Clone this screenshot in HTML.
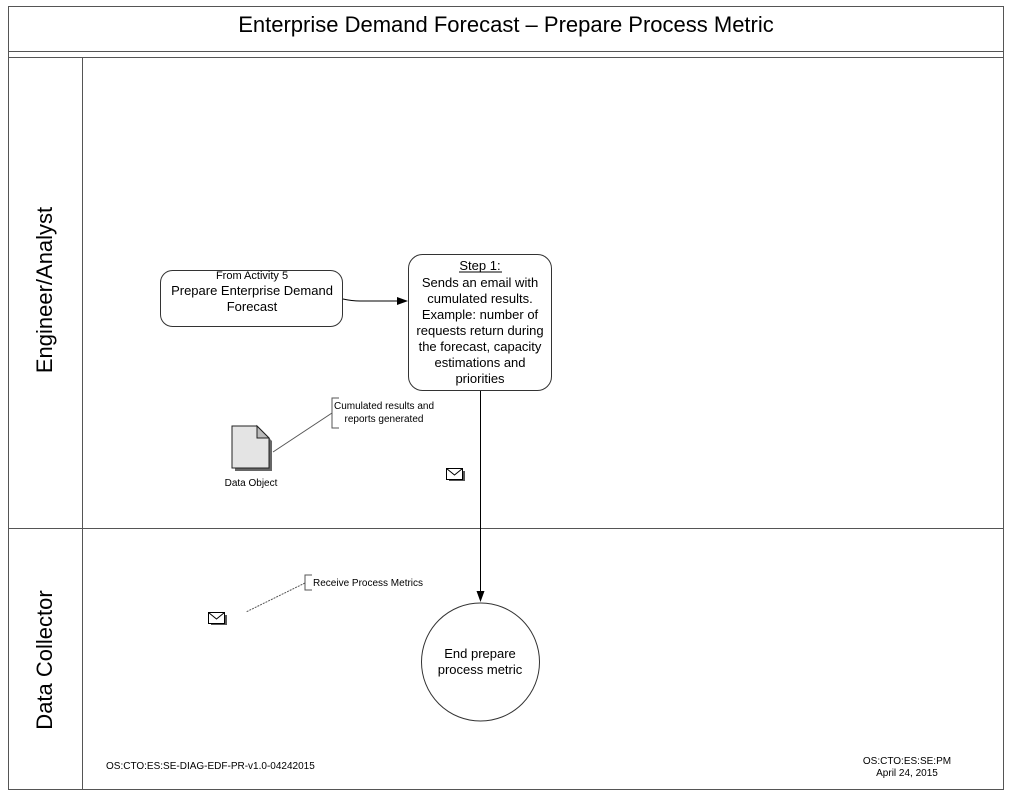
<!DOCTYPE html>
<html><head><style>body{margin:0;background:#fff}svg{display:block}text{font-family:"Liberation Sans",sans-serif;fill:#000}</style></head>
<body>
<svg width="1012" height="792" xmlns="http://www.w3.org/2000/svg">
<rect x="0" y="0" width="1012" height="792" fill="#fff"/>
<g stroke="#555" fill="none" stroke-width="1">
<rect x="8.5" y="6.5" width="995" height="783"/>
<line x1="8" y1="51.5" x2="1004" y2="51.5"/>
<line x1="8" y1="57.5" x2="1004" y2="57.5"/>
<line x1="82.5" y1="57" x2="82.5" y2="790"/>
<line x1="8" y1="528.5" x2="1004" y2="528.5"/>
</g>
<text x="506" y="32" font-size="22" text-anchor="middle">Enterprise Demand Forecast – Prepare Process Metric</text>
<text transform="translate(52,290) rotate(-90)" font-size="22" text-anchor="middle">Engineer/Analyst</text>
<text transform="translate(52,660) rotate(-90)" font-size="22" text-anchor="middle">Data Collector</text>
<rect x="160.5" y="270.5" width="182" height="56" rx="12" fill="#fff" stroke="#333"/>
<text x="252" y="279" font-size="11" text-anchor="middle">From Activity 5</text>
<text x="252" y="295" font-size="13" text-anchor="middle">Prepare Enterprise Demand</text>
<text x="252" y="311" font-size="13" text-anchor="middle">Forecast</text>
<path d="M343,299 Q352,301 360,301 L398,301" stroke="#000" fill="none"/>
<polygon points="408,301 397,297 397,305" fill="#000"/>
<rect x="408.5" y="254.5" width="143" height="136" rx="14" fill="#fff" stroke="#333"/>
<g font-size="13" text-anchor="middle">
<text x="480" y="270">Step 1:</text>
<line x1="459" y1="272" x2="502" y2="272" stroke="#000"/>
<text x="480" y="287">Sends an email with</text>
<text x="480" y="303">cumulated results.</text>
<text x="480" y="319">Example: number of</text>
<text x="480" y="335">requests return during</text>
<text x="480" y="351">the forecast, capacity</text>
<text x="480" y="367">estimations and</text>
<text x="480" y="383">priorities</text>
</g>
<line x1="480.5" y1="391" x2="480.5" y2="592" stroke="#000"/>
<polygon points="480.5,602 476.5,591 484.5,591" fill="#000"/>
<circle cx="480.5" cy="662" r="59" fill="#fff" stroke="#333"/>
<text x="480" y="658" font-size="13" text-anchor="middle">End prepare</text>
<text x="480" y="674" font-size="13" text-anchor="middle">process metric</text>
<path d="M339,398 L332,398 L332,428 L339,428" stroke="#555" fill="none"/>
<line x1="332" y1="413" x2="273" y2="452" stroke="#555"/>
<text x="384" y="409" font-size="10" text-anchor="middle">Cumulated results and</text>
<text x="384" y="422" font-size="10" text-anchor="middle">reports generated</text>
<polygon points="235,429 260,429 272,441 272,471 235,471" fill="#666"/>
<polygon points="232,426 257,426 269,438 269,468 232,468" fill="#e4e4e4" stroke="#222"/>
<polygon points="257,426 257,438 269,438" fill="#bbb" stroke="#222"/>
<text x="251" y="486" font-size="10" text-anchor="middle">Data Object</text>
<rect x="449" y="471" width="16" height="10" fill="#555"/>
<rect x="446.5" y="468.5" width="16" height="11" fill="#fff" stroke="#000"/>
<polyline points="446.5,468.5 454.5,475 462.5,468.5" fill="none" stroke="#000"/>
<rect x="211" y="615" width="16" height="10" fill="#555"/>
<rect x="208.5" y="612.5" width="16" height="11" fill="#fff" stroke="#000"/>
<polyline points="208.5,612.5 216.5,619 224.5,612.5" fill="none" stroke="#000"/>
<path d="M312,575 L305,575 L305,590 L312,590" stroke="#555" fill="none"/>
<line x1="305" y1="583" x2="246" y2="612" stroke="#555" stroke-dasharray="2,1"/>
<text x="313" y="586" font-size="10">Receive Process Metrics</text>
<text x="106" y="769" font-size="10">OS:CTO:ES:SE-DIAG-EDF-PR-v1.0-04242015</text>
<text x="907" y="764" font-size="10" text-anchor="middle">OS:CTO:ES:SE:PM</text>
<text x="907" y="776" font-size="10" text-anchor="middle">April 24, 2015</text>
</svg>
</body></html>
